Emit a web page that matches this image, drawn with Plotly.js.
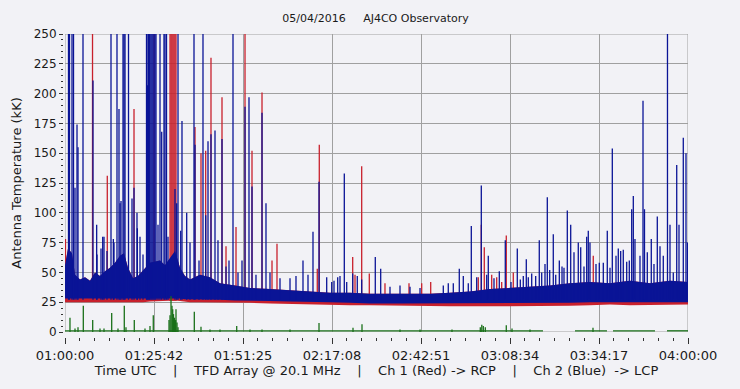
<!DOCTYPE html>
<html>
<head>
<meta charset="utf-8">
<script src="https://cdn.plot.ly/plotly-3.0.1.min.js"></script>
<style>
html,body{margin:0;padding:0;background:#f2f2f6;}
#chart{width:740px;height:389px;outline:2px solid #a4a4a8;outline-offset:-2px;}
</style>
</head>
<body>
<div id="chart"></div>
<script>
// ---- data (time in minutes after 01:00:00 UTC, values in kK) ----
const tickLabels = ['01:00:00','01:25:42','01:51:25','02:17:08','02:42:51','03:08:34','03:34:17','04:00:00'];

// dense noise band (read at knots)
const bandT = [0,0.87,2.02,2.89,4.33,5.78,7.22,8.67,10.11,11.56,13.00,14.45,15.89,17.05,18.20,19.65,21.09,22.54,24.56,27.45,28.89,30.34,31.78,33.23,34.67,36.12,39.00,41.89,44.78,49.12,53.45,59.23,65.01,70.79,76.56,82.34,88.12,96.79,105.46,111.23,117.01,122.79,128.57,134.35,140.13,145.90,151.68,157.46,163.24,169.02,174.80,180];
const blueTop = [56,70,66,48,44,46,43,50,47,51,54,58,64,66,54,45,47,52,58,60,56,62,68,54,47,44,48,46,41,39,37,36,35,34,33,33,32,32,32,33,34,36,37,38,39,41,42,41,43,41,43,42];
const blueLow = [28,28,28,28,28,28,28,28,28,28,28,28,28,28,28,28,28,28,28,28,28,28,28.5,28,27.5,27.5,27,27,27,26.5,26.5,26,25.5,25.5,25,24.5,24,24,24,24,24,24,24,24,24,24.5,25,25,25,25,25,25];
const redLow = [25,25,25,24.5,24.5,24.5,24.5,24.5,24.5,24.5,24.5,24.5,25,25,25,25,25,25,25.5,26,26,26.5,26.5,26,25.5,25,25,25,24.5,24.5,24.5,24,23.5,23.5,23,22.5,22.5,22,22,21.5,21.5,21.5,21.5,21.5,21.5,22,22.5,23,22.5,22.5,22.5,23];

// Ch 2 (blue, LCP) spikes; 260 = off scale
const blueSpikeT = [1.01,1.30,2.02,2.46,2.89,3.47,3.76,5.20,8.09,9.15,9.25,10.40,10.89,11.27,12.13,13.29,13.97,14.16,15.02,15.60,15.89,16.18,16.76,17.05,17.34,18.35,19.36,19.94,20.80,20.90,21.67,22.54,23.55,23.69,23.89,24.12,24.36,24.56,24.85,25.14,25.42,25.71,26.00,26.29,26.87,27.45,27.94,28.60,28.89,29.33,29.76,31.78,32.27,32.65,33.43,33.80,35.16,36.12,37.27,37.56,38.72,39.87,40.65,41.32,42.18,43.34,44.20,45.36,46.52,47.38,48.54,49.98,51.14,52.01,53.16,54.03,55.18,56.92,58.07,59.23,62.12,65.01,66.74,68.76,70.21,71.65,73.39,75.61,77.06,77.72,78.79,79.45,80.70,81.39,83.12,84.45,85.72,89.65,91.21,93.90,96.79,99.68,102.57,109.30,110.74,112.19,113.92,115.08,116.52,117.39,118.95,120.28,121.84,122.30,123.95,125.48,127.21,128.86,130.68,131.55,132.41,133.28,133.86,134.84,135.99,137.03,137.73,138.68,139.35,140.04,141.08,141.78,142.82,143.60,144.17,145.13,146.11,147.06,148.30,149.00,149.95,150.73,151.19,151.68,153.42,154.37,155.53,156.68,157.46,158.13,159.20,159.86,160.55,161.30,162.29,163.04,163.73,164.20,164.68,166.13,167.00,167.43,168.24,169.39,170.17,171.13,171.91,172.86,174.07,174.80,175.75,176.74,177.40,178.64,179.42,179.86];
const blueSpikeV = [260,260,260,260,121,174,155,260,211,90,65,70,80,80,68,260,78,75,260,187,108,110,260,260,260,260,112,121,100,87,80,65,260,260,207,260,260,260,260,260,260,260,260,260,90,260,168,260,260,260,80,120,108,260,85,177,100,75,260,157,60,260,98,160,166,169,77,162,55,60,260,50,60,189,197,122,48,184,108,50,45,45,47,60,48,84,126,46,42,43,46,47,133,42,49,47,44,63,53,38,39,38,37,39,41,41,53,47,41,89,46,123,48,64,45,51,77,42,70,44,47,61,46,49,47,77,50,57,113,52,82,48,60,55,54,102,90,67,75,71,55,80,85,75,57,58,58,85,54,154,64,70,68,69,59,60,103,114,78,64,194,103,67,78,57,97,72,64,260,90,50,140,90,163,150,75];

// Ch 1 (red, RCP) spikes
const redSpikeT = [0.14,7.95,12.22,19.94,25.71,30.34,30.63,30.91,31.20,31.49,31.78,32.07,37.56,39.29,40.65,42.18,45.36,46.52,49.41,52.01,54.03,56.92,59.81,61.25,72.89,73.47,83.12,83.79,85.72,87.92,92.45,99.39,103.06,105.66,119.41,120.28,121.14,123.28,124.73,126.17,127.50,129.52,152.63];
const redSpikeV = [78,260,131,187,260,260,260,260,260,260,260,260,172,150,152,230,197,72,88,260,152,201,60,74,53,157,63,48,139,49,41,41,41,42,46,90,71,48,46,42,81,50,64];

// green trace (near zero, with gaps)
const greenBaseT = [0,138.10,null,147.35,156.59,null,158.33,170.46,null,173.93,180];
const greenBaseV = [1,1,null,1,1,null,1,1,null,1,1];
const greenSpikeT = [1.44,2.89,3.76,5.29,8.00,10.11,11.27,13.49,15.31,17.13,17.62,20.02,23.11,24.56,25.51,30.05,30.34,30.63,30.91,31.12,31.35,31.64,31.93,32.07,32.36,32.65,37.36,39.29,41.89,44.78,49.61,53.45,56.92,65.01,73.39,83.21,85.81,96.79,102.57,111.81,119.99,120.42,120.86,121.44,127.50,129.15,134.35,152.55];
const greenSpikeV = [12,3,4,22,10,3,3,16,3,22,4,10,3,5,14,10,14,30,22,19,15,12,10,19,8,4,17,4.5,2,2,5,2,2,2,7.5,3.6,6.5,2,2,2,4,6,5,4,5.6,3,2,3.6];

// ---- styles ----
const BLUE = '#0a1496', RED = '#c8202c', GREEN = '#1a701a';
const BG = '#f2f2f6', GRID = '#a0a0a0';
const FONT = 'DejaVu Sans, sans-serif';

function stems(ts, vs, base) {
  const x = [], y = [];
  ts.forEach((t, i) => { x.push(t, t, null); y.push(base, vs[i], null); });
  return {x, y};
}

const rs = stems(redSpikeT, redSpikeV, 26);
const bs = stems(blueSpikeT, blueSpikeV, 27);
const gs = stems(greenSpikeT, greenSpikeV, 0);

const traces = [
  {x: bandT, y: redLow, mode: 'lines', line: {width: 0, color: RED}},
  {x: bandT, y: blueTop, mode: 'lines', line: {width: 0, color: RED}, fill: 'tonexty', fillcolor: RED},
  {x: rs.x, y: rs.y, mode: 'lines', line: {width: 1.3, color: RED}, connectgaps: false},
  {x: bandT, y: blueLow, mode: 'lines', line: {width: 0, color: BLUE}},
  {x: bandT, y: blueTop, mode: 'lines', line: {width: 0, color: BLUE}, fill: 'tonexty', fillcolor: BLUE},
  {x: bs.x, y: bs.y, mode: 'lines', line: {width: 1.3, color: BLUE}, connectgaps: false},
  {x: greenBaseT, y: greenBaseV, mode: 'lines', line: {width: 1.3, color: GREEN}, connectgaps: false},
  {x: gs.x, y: gs.y, mode: 'lines', line: {width: 1.3, color: GREEN}, connectgaps: false}
].map(t => Object.assign({type: 'scatter', showlegend: false, hoverinfo: 'skip'}, t));

const nT = tickLabels.length - 1;
const layout = {
  width: 740, height: 389,
  margin: {l: 63, r: 52, t: 34, b: 52, pad: 0},
  paper_bgcolor: BG, plot_bgcolor: BG,
  font: {family: FONT, size: 12, color: '#1a1a1a'},
  showlegend: false,
  title: {
    text: '05/04/2016\u00a0\u00a0\u00a0\u00a0\u00a0AJ4CO Observatory',
    font: {family: FONT, size: 11, color: '#1a1a1a'},
    x: 0.5, xref: 'paper', xanchor: 'center',
    y: 1 - 18 / 389, yref: 'container', yanchor: 'middle'
  },
  xaxis: {
    domain: [2 / 625, 1], anchor: 'free', position: 0,
    range: [0, 180], fixedrange: true,
    tickmode: 'array', tickvals: tickLabels.map((_, i) => i * 180 / nT), ticktext: tickLabels,
    ticks: 'outside', ticklen: 6, tickwidth: 1, tickcolor: '#333',
    tickfont: {family: FONT, size: 13, color: '#1a1a1a'},
    minor: {tickmode: 'linear', tick0: 0, dtick: 180 / (nT * 6), ticks: 'outside', ticklen: 3, tickcolor: '#333', showgrid: false},
    showgrid: true, gridcolor: GRID, gridwidth: 1,
    zeroline: false, showline: false,
    title: {
      text: 'Time UTC\u00a0\u00a0\u00a0\u00a0|\u00a0\u00a0\u00a0\u00a0TFD Array @ 20.1 MHz\u00a0\u00a0\u00a0\u00a0|\u00a0\u00a0\u00a0\u00a0Ch 1 (Red) -> RCP\u00a0\u00a0\u00a0\u00a0|\u00a0\u00a0\u00a0\u00a0Ch 2 (Blue)\u00a0\u00a0-> LCP',
      font: {family: FONT, size: 13, color: '#1a1a1a'},
      standoff: 4
    }
  },
  yaxis: {
    domain: [5 / 303, 1], anchor: 'free', position: 0,
    range: [0, 250], fixedrange: true,
    tickmode: 'linear', tick0: 0, dtick: 25,
    ticks: 'outside', ticklen: 4, tickwidth: 1, tickcolor: '#333',
    tickfont: {family: FONT, size: 12, color: '#1a1a1a'},
    minor: {tickmode: 'linear', tick0: 0, dtick: 5, ticks: 'outside', ticklen: 2, tickcolor: '#333', showgrid: false},
    showgrid: true, gridcolor: GRID, gridwidth: 1,
    zeroline: false, showline: false,
    title: {text: 'Antenna Temperature (kK)', font: {family: FONT, size: 13, color: '#1a1a1a'}, standoff: 8}
  },
  shapes: [{type: 'rect', xref: 'x', yref: 'y', x0: 0, x1: 180, y0: 0, y1: 250, line: {color: GRID, width: 1}, layer: 'below'}]
};

Plotly.newPlot('chart', traces, layout, {staticPlot: true, displayModeBar: false});
</script>
</body>
</html>
